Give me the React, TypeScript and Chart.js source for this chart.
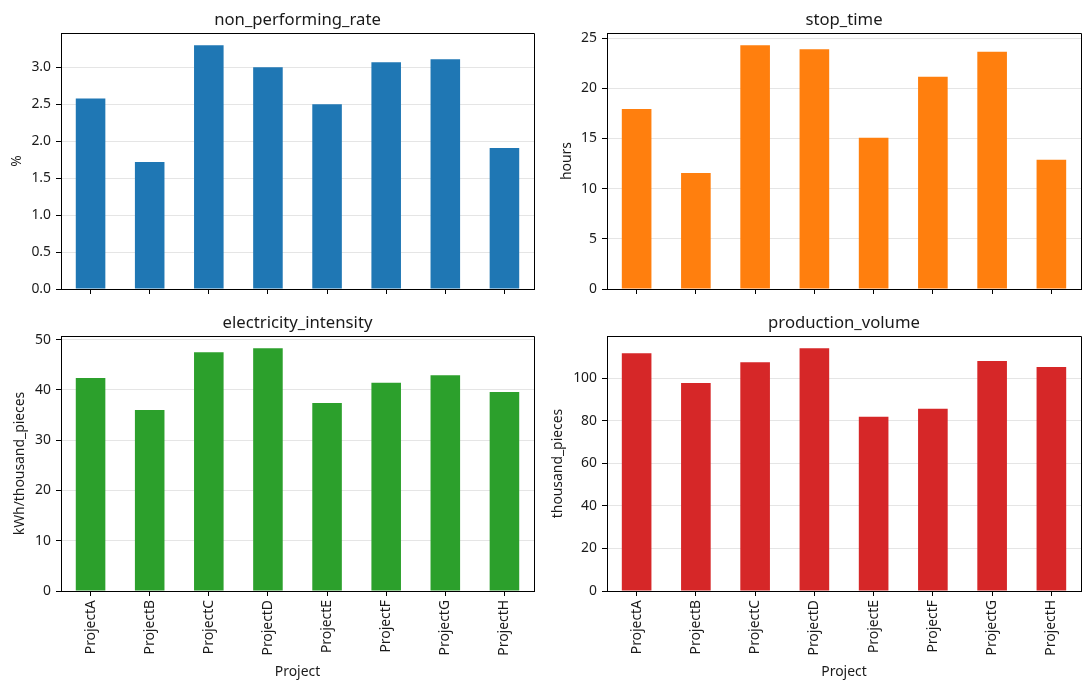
import React, { useEffect, useRef } from 'react';
import { Chart, registerables } from 'chart.js';

Chart.register(...registerables);

const categories = ['ProjectA', 'ProjectB', 'ProjectC', 'ProjectD', 'ProjectE', 'ProjectF', 'ProjectG', 'ProjectH'];
const nonPerformingRate = [2.58, 1.72, 3.3, 3.0, 2.5, 3.07, 3.11, 1.91];
const stopTime = [17.95, 11.55, 24.3, 23.9, 15.07, 21.15, 23.64, 12.88];
const electricityIntensity = [42.35, 36.0, 47.5, 48.3, 37.4, 41.4, 42.9, 39.6];
const productionVolume = [111.8, 97.8, 107.6, 114.2, 81.9, 85.7, 108.1, 105.3];

const rateTicks = [0, 0.5, 1.0, 1.5, 2.0, 2.5, 3.0];
const stopTicks = [0, 5, 10, 15, 20, 25];
const elecTicks = [0, 10, 20, 30, 40, 50];
const prodTicks = [0, 20, 40, 60, 80, 100];

const FONT = "'Noto Sans', 'DejaVu Sans', sans-serif";
const TEXT = '#1a1a1a';
const GRID = 'rgba(176,176,176,0.33)';

type Box = { left: number; top: number; width: number; height: number };
type Area = { left: number; top: number; right: number; bottom: number };

type PanelProps = {
  title: string;
  values: number[];
  color: string;
  yLabel: string;
  yTicks: number[];
  decimals: number;
  box: Box;
  area: Area;
  showX: boolean;
  yTitlePad: number;
};

const align = (v: number) => Math.round(v - 0.5) + 0.5;

const framePlugin = {
  id: 'frameAndTitle',
  afterDraw(chart: any, _args: any, opts: any) {
    const { ctx, chartArea } = chart;
    ctx.save();
    ctx.strokeStyle = '#000';
    ctx.lineWidth = 1;
    const l = align(chartArea.left);
    const t = align(chartArea.top);
    const r = align(chartArea.right);
    const b = align(chartArea.bottom);
    ctx.beginPath();
    ctx.moveTo(l, t);
    ctx.lineTo(r, t);
    ctx.lineTo(r, b);
    ctx.stroke();
    ctx.fillStyle = TEXT;
    ctx.font = `16.7px ${FONT}`;
    ctx.textAlign = 'center';
    ctx.textBaseline = 'alphabetic';
    ctx.fillText(opts.text, (chartArea.left + chartArea.right) / 2, chartArea.top - 8.3);
    ctx.restore();
  },
};

function Panel(p: PanelProps) {
  const ref = useRef<HTMLCanvasElement | null>(null);
  useEffect(() => {
    if (!ref.current) return;
    const font = { family: FONT, size: 13.9 };
    const chart = new Chart(ref.current, {
      type: 'bar',
      data: {
        labels: categories,
        datasets: [
          {
            data: p.values,
            backgroundColor: p.color,
            borderWidth: 0,
            inflateAmount: 0,
            categoryPercentage: 1.0,
            barPercentage: 0.5,
          },
        ],
      },
      options: {
        responsive: false,
        animation: false,
        layout: {
          padding: {
            left: 0,
            top: p.area.top - p.box.top,
            right: p.box.left + p.box.width - p.area.right,
            bottom: 0,
          },
        },
        plugins: {
          legend: { display: false },
          tooltip: { enabled: false },
          title: { display: false },
          frameAndTitle: { text: p.title },
        } as any,
        scales: {
          x: {
            type: 'category',
            offset: true,
            grid: {
              display: true,
              drawOnChartArea: false,
              drawTicks: true,
              tickLength: 5,
              color: '#000',
              offset: false,
            },
            border: { display: true, color: '#000', width: 1 },
            ticks: {
              display: p.showX,
              font,
              color: TEXT,
              minRotation: 90,
              maxRotation: 90,
              padding: 4,
              autoSkip: false,
            },
            title: {
              display: p.showX,
              text: 'Project',
              font,
              color: TEXT,
              padding: { top: 0, bottom: 9.7 },
            },
            afterFit: (s: any) => {
              s.height = p.box.top + p.box.height - p.area.bottom;
              s.paddingLeft = 0;
              s.paddingRight = 0;
            },
          },
          y: {
            type: 'linear',
            min: 0,
            max: Math.max(...p.values) * 1.05,
            z: 1,
            grid: {
              color: (c: any) => (c.tick && c.tick.value === 0 ? 'rgba(0,0,0,0)' : GRID),
              tickColor: '#000',
              tickLength: 5,
              lineWidth: 1,
            },
            border: { display: true, color: '#000', width: 1 },
            ticks: {
              font,
              color: TEXT,
              padding: 5,
              callback: (v: any) => Number(v).toFixed(p.decimals),
            },
            afterBuildTicks: (s: any) => {
              s.ticks = p.yTicks.map((v) => ({ value: v }));
            },
            title: {
              display: true,
              text: p.yLabel,
              font,
              color: TEXT,
              padding: { top: p.yTitlePad, bottom: 0 },
            },
            afterFit: (s: any) => {
              s.width = p.area.left - p.box.left;
              s.paddingTop = 0;
              s.paddingBottom = 0;
            },
          },
        },
      } as any,
      plugins: [framePlugin],
    });
    return () => chart.destroy();
  }, []);
  return (
    <canvas
      ref={ref}
      width={p.box.width}
      height={p.box.height}
      style={{ position: 'absolute', left: p.box.left, top: p.box.top, width: p.box.width, height: p.box.height }}
    />
  );
}

export default function App() {
  return (
    <div style={{ position: 'absolute', left: 0, top: 0, width: 1089, height: 690, background: '#fff' }}>
      <Panel
        title="non_performing_rate"
        values={nonPerformingRate}
        color="#1f77b4"
        yLabel="%"
        yTicks={rateTicks}
        decimals={1}
        box={{ left: 0, top: 0, width: 545, height: 300 }}
        area={{ left: 61, top: 33, right: 534, bottom: 289 }}
        showX={false}
        yTitlePad={9.1}
      />
      <Panel
        title="stop_time"
        values={stopTime}
        color="#ff7f0e"
        yLabel="hours"
        yTicks={stopTicks}
        decimals={0}
        box={{ left: 545, top: 0, width: 544, height: 300 }}
        area={{ left: 607, top: 33, right: 1081, bottom: 289 }}
        showX={false}
        yTitlePad={14}
      />
      <Panel
        title="electricity_intensity"
        values={electricityIntensity}
        color="#2ca02c"
        yLabel="kWh/thousand_pieces"
        yTicks={elecTicks}
        decimals={0}
        box={{ left: 0, top: 300, width: 545, height: 390 }}
        area={{ left: 61, top: 336, right: 534, bottom: 591 }}
        showX={true}
        yTitlePad={12.1}
      />
      <Panel
        title="production_volume"
        values={productionVolume}
        color="#d62728"
        yLabel="thousand_pieces"
        yTicks={prodTicks}
        decimals={0}
        box={{ left: 545, top: 300, width: 544, height: 390 }}
        area={{ left: 607, top: 336, right: 1081, bottom: 591 }}
        showX={true}
        yTitlePad={4.6}
      />
    </div>
  );
}
